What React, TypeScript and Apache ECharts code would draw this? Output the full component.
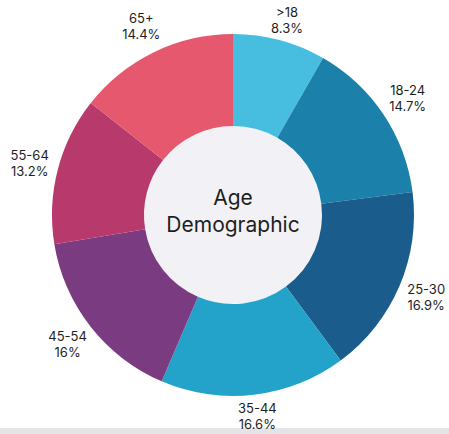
import React, { useEffect, useRef } from "react";
import * as echarts from "echarts";

const categories = [">18", "18-24", "25-30", "35-44", "45-54", "55-64", "65+"];
const values = [8.3, 14.7, 16.9, 16.6, 16, 13.2, 14.4];
const colors = ["#47bee0", "#1b80aa", "#1a5d8c", "#23a3ca", "#7a3b80", "#b8396c", "#e6586e"];
const centerLines = ["Age", "Demographic"];

export default function App() {
  const ref = useRef<HTMLDivElement>(null);
  useEffect(() => {
    document.body.style.margin = "0";
    const chart = echarts.init(ref.current!, undefined, { renderer: "svg" });
    const data = categories.map((name, i) => ({ name, value: values[i], itemStyle: { color: colors[i] } }));
    const cx = 233;
    const cy = 215;
    chart.setOption({
      animation: false,
      backgroundColor: "#ffffff",
      graphic: [
        { type: "rect", shape: { x: 0, y: 428, width: 449, height: 6 }, style: { fill: "#e4e4e6" }, z: -1 },
        { type: "circle", shape: { cx, cy, r: 89 }, style: { fill: "#f2f2f6" }, z: -1 },
        {
          type: "text",
          x: cx,
          y: cy - 4,
          style: {
            text: centerLines.join("\n"),
            fill: "#1e1e1e",
            font: "400 21px Inter, 'Noto Sans', sans-serif",
            lineHeight: 27,
            align: "center",
            verticalAlign: "middle",
          },
        },
      ],
      series: [
        {
          type: "pie",
          center: [cx, cy],
          radius: [89, 181],
          startAngle: 90,
          clockwise: true,
          silent: true,
          label: { show: false },
          labelLine: { show: false },
          itemStyle: { borderWidth: 0 },
          data,
        },
        {
          type: "pie",
          center: [cx, cy],
          radius: [181, 233],
          startAngle: 90,
          clockwise: true,
          silent: true,
          itemStyle: { color: "rgba(0,0,0,0)", borderWidth: 0 },
          label: {
            show: true,
            position: "inside",
            formatter: (p: any) => {
              const t = `${p.name}\n${p.value}%`;
              // top label sits a little lower, bottom label a little higher
              if (p.dataIndex === 0) return `\n${t}`;
              if (p.dataIndex === 3) return `${t}\n`;
              return t;
            },
            color: "#1e1e1e",
            fontFamily: "Inter, 'Noto Sans', sans-serif",
            fontSize: 13,
            lineHeight: 16,
            align: "center",
          },
          labelLine: { show: false },
          data: categories.map((name, i) => ({ name, value: values[i] })),
        },
      ],
    });
    return () => chart.dispose();
  }, []);
  return <div ref={ref} style={{ width: 449, height: 434 }} />;
}
